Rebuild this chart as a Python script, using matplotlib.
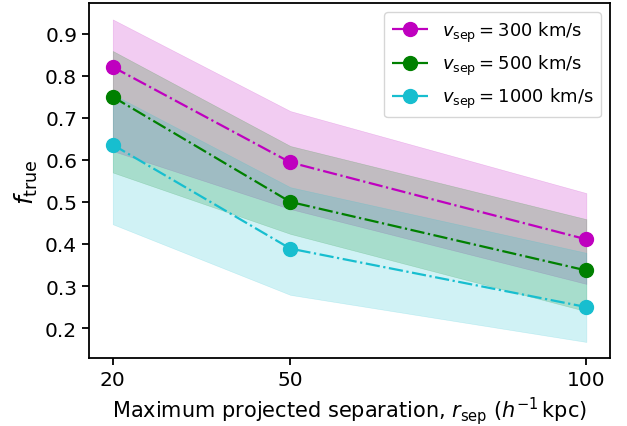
import matplotlib.pyplot as plt
import numpy as np

# maximum projected separation (h^-1 kpc)
r_sep = [20, 50, 100]

labels = [r'$v_{\rm sep} = 300$ km/s', r'$v_{\rm sep} = 500$ km/s', r'$v_{\rm sep} = 1000$ km/s']
colors = ['m', 'g', '#17becf']

# f_true mean and band limits for each v_sep
f300 = [0.821, 0.594, 0.411]
f300_hi = [0.934, 0.716, 0.521]
f300_lo = [0.621, 0.483, 0.305]

f500 = [0.750, 0.500, 0.337]
f500_hi = [0.859, 0.633, 0.459]
f500_lo = [0.570, 0.424, 0.240]

f1000 = [0.636, 0.389, 0.250]
f1000_hi = [0.756, 0.535, 0.379]
f1000_lo = [0.447, 0.279, 0.167]

means = [f300, f500, f1000]
highs = [f300_hi, f500_hi, f1000_hi]
lows = [f300_lo, f500_lo, f1000_lo]

fig, ax = plt.subplots(figsize=(6.27, 4.27), dpi=100)
fig.subplots_adjust(left=0.142, right=0.973, top=0.99, bottom=0.159)

for f, hi, lo, c, lab in zip(means, highs, lows, colors, labels):
    ax.fill_between(r_sep, lo, hi, color=c, alpha=0.2, linewidth=0.4)
    ax.plot(r_sep, f, '-.o', color=c, markersize=10, linewidth=1.6, label=lab)

ax.set_xticks(r_sep)
ax.set_xticklabels([str(r) for r in r_sep])
ax.set_yticks([0.2, 0.3, 0.4, 0.5, 0.6, 0.7, 0.8, 0.9])
ax.tick_params(labelsize=14.5, width=1.3, length=5)
ax.set_xlabel(r'Maximum projected separation, $r_{\rm sep}$ ($h^{-1}\,$kpc)', fontsize=15)
ax.set_ylabel(r'$f_{\rm true}$', fontsize=18)
ax.legend(loc='upper right', fontsize=13)
for s in ax.spines.values():
    s.set_linewidth(1.3)

plt.savefig('out.png', dpi=100)
